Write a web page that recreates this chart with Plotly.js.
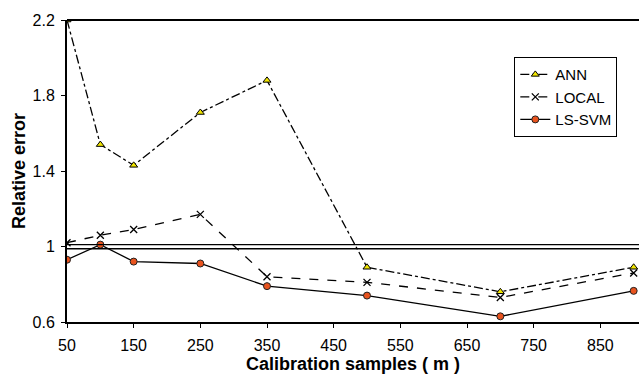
<!DOCTYPE html>
<html><head><meta charset="utf-8">
<script src="https://cdn.plot.ly/plotly-3.0.1.min.js"></script>
<style>html,body{margin:0;padding:0;background:#fff}#chart{width:639px;height:374px}</style>
</head><body><div id="chart"></div>
<script>
const samples = [50, 100, 150, 250, 350, 500, 700, 900];
const ann = [2.2, 1.54, 1.43, 1.71, 1.88, 0.89, 0.76, 0.89];
const local = [1.02, 1.06, 1.09, 1.17, 0.84, 0.81, 0.73, 0.86];
const lssvm = [0.93, 1.01, 0.92, 0.91, 0.79, 0.74, 0.63, 0.765];
const xTicks = [50, 150, 250, 350, 450, 550, 650, 750, 850];
const yTicks = [0.6, 1, 1.4, 1.8, 2.2];
const yTickText = ['0.6', '1', '1.4', '1.8', '2.2'];
const refLines = [1.01, 0.988];

const traces = [
  {x: samples, y: ann, name: 'ANN', mode: 'lines+markers',
   line: {color: '#000', width: 1.3, dash: 'dashdot'},
   marker: {symbol: 'triangle-up', size: 7, color: '#F2E600', line: {color: '#000', width: 1}}},
  {x: samples, y: local, name: 'LOCAL', mode: 'lines+markers',
   line: {color: '#000', width: 1.3, dash: 'dash'},
   marker: {symbol: 'x-thin', size: 7, color: '#000', line: {color: '#000', width: 1.3}}},
  {x: samples, y: lssvm, name: 'LS-SVM', mode: 'lines+markers',
   line: {color: '#000', width: 1.3},
   marker: {symbol: 'circle', size: 7, color: '#E8531E', line: {color: '#222', width: 1}}}
];

const shapes = refLines.map(v => ({type: 'line', xref: 'paper', x0: 0, x1: 1, yref: 'y', y0: v, y1: v,
  line: {color: '#000', width: 1.3}}));
shapes.push({type: 'line', xref: 'paper', x0: 0, x1: 1, yref: 'paper', y0: 1, y1: 1, line: {color: '#000', width: 2}});

const layout = {
  width: 639, height: 374,
  margin: {l: 67, r: 0, t: 20, b: 52},
  paper_bgcolor: '#fff', plot_bgcolor: '#fff',
  font: {family: "Arial, 'Liberation Sans', sans-serif", color: '#000', size: 16},
  showlegend: true,
  legend: {x: 0.782, y: 0.877, xanchor: 'left', yanchor: 'top', bordercolor: '#000', borderwidth: 1,
    bgcolor: '#fff', font: {size: 15}, tracegroupgap: 0, itemwidth: 30},
  xaxis: {range: [50, 908], tickvals: xTicks, ticktext: xTicks.map(String), showgrid: false, zeroline: false,
    showline: true, linecolor: '#000', linewidth: 2, ticks: 'outside', ticklen: 4, tickcolor: '#000',
    tickfont: {size: 16}, ticklabelstandoff: 4,
    title: {text: 'Calibration samples ( m )', font: {size: 18, weight: 'bold'}, standoff: 6}},
  yaxis: {range: [0.6, 2.2], tickvals: yTicks, ticktext: yTickText, showgrid: false, zeroline: false,
    showline: true, linecolor: '#000', linewidth: 2, ticks: 'outside', ticklen: 4, tickcolor: '#000',
    tickfont: {size: 16}, ticklabelstandoff: 3,
    title: {text: 'Relative error', font: {size: 18, weight: 'bold'}, standoff: 2}},
  shapes: shapes
};
Plotly.newPlot('chart', traces, layout, {displayModeBar: false, staticPlot: true});
</script></body></html>
